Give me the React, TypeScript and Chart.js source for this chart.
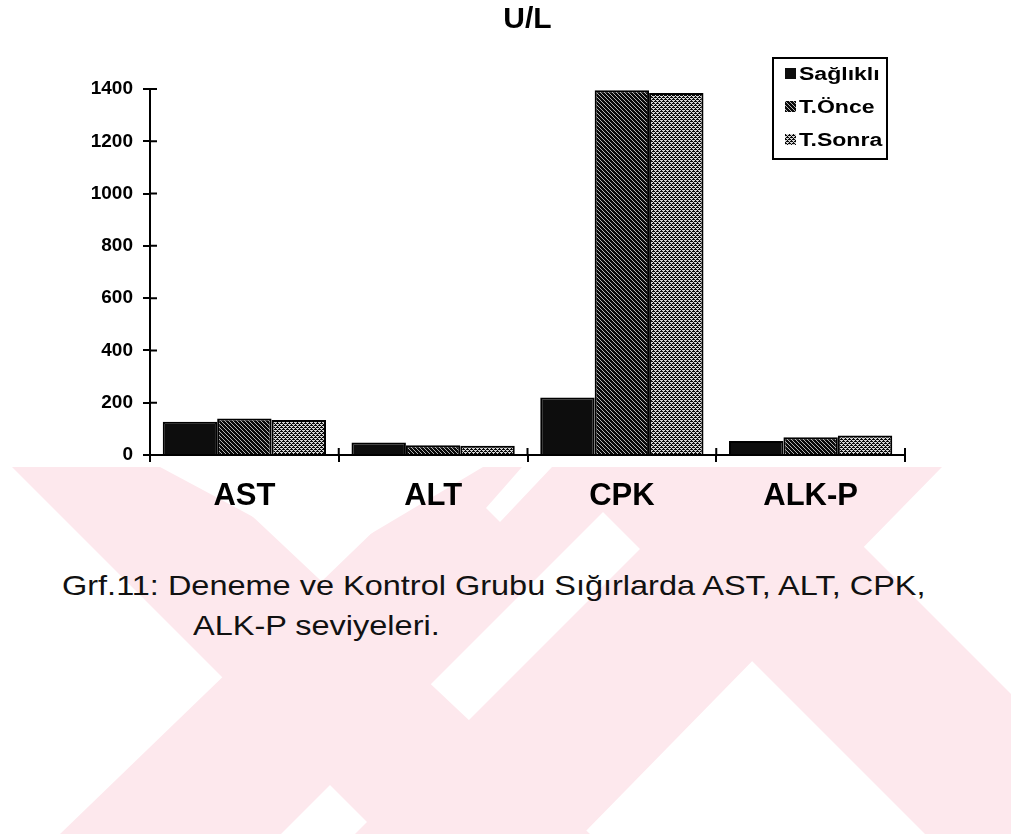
import React, { useEffect, useRef } from "react";
import { Chart, registerables } from "chart.js";

Chart.register(...registerables);

// Enzyme activity levels (U/L) per group
const categories = ["AST", "ALT", "CPK", "ALK-P"];
const seriesNames = ["Sağlıklı", "T.Önce", "T.Sonra"];
const saglikli = [127, 48, 220, 54];
const tOnce = [140, 37, 1395, 68];
const tSonra = [134, 35, 1385, 75];
const yTicks = [0, 200, 400, 600, 800, 1000, 1200, 1400];

const chartTitle = "U/L";
const captionLine1 = "Grf.11: Deneme ve Kontrol Grubu Sığırlarda AST, ALT, CPK,";
const captionLine2 = "ALK-P seviyeleri.";

const FONT = "'Liberation Sans', Arial, Helvetica, sans-serif";

// Monochrome fill textures for the three groups
function makeFill(kind: "solid" | "hatch" | "dots"): CanvasPattern | string {
  if (kind === "solid") return "#0d0d0d";
  const c = document.createElement("canvas");
  c.width = 4;
  c.height = 4;
  const g = c.getContext("2d")!;
  g.fillStyle = "#0a0a0a";
  g.fillRect(0, 0, 4, 4);
  if (kind === "hatch") {
    // fine diagonal hatching
    g.fillStyle = "#b4b4b4";
    for (let i = 0; i < 4; i++) g.fillRect(i, i, 1, 1);
  } else {
    // light speckled rows
    g.fillStyle = "#d4d4d4";
    const lit = [
      [0, 0], [1, 0], [2, 0],
      [1, 1],
      [0, 2], [2, 2], [3, 2],
      [3, 3],
    ];
    lit.forEach(([x, y]) => g.fillRect(x, y, 1, 1));
  }
  const p = document.createElement("canvas").getContext("2d")!.createPattern(c, "repeat");
  return p || "#555";
}

const decorPlugin = {
  id: "decor",
  afterDraw(chart: any) {
    const { ctx, chartArea, scales } = chart;
    const xs = scales.x;
    const ys = scales.y;
    ctx.save();
    ctx.strokeStyle = "#000";
    ctx.lineWidth = 2;
    ctx.beginPath();
    // tick marks continue to the inside of both axes
    ys.ticks.forEach((t: any) => {
      const py = ys.getPixelForValue(t.value);
      ctx.moveTo(chartArea.left, py);
      ctx.lineTo(chartArea.left + 7, py);
    });
    for (let i = 0; i <= categories.length; i++) {
      const px = xs.getPixelForValue(i - 0.5);
      ctx.moveTo(px, chartArea.bottom);
      ctx.lineTo(px, chartArea.bottom - 7);
    }
    ctx.stroke();

    // title
    ctx.fillStyle = "#000";
    ctx.font = `bold 30px ${FONT}`;
    ctx.textAlign = "center";
    ctx.textBaseline = "alphabetic";
    ctx.fillText(chartTitle, (chartArea.left + chartArea.right) / 2, 28);

    // boxed legend in the upper right corner
    const bx = 773;
    const by = 58;
    const bw = 114;
    const bh = 101;
    ctx.lineWidth = 2;
    ctx.strokeRect(bx, by, bw, bh);
    const rowY = [74, 107, 140];
    chart.data.datasets.forEach((ds: any, i: number) => {
      const cy = rowY[i];
      ctx.fillStyle = ds.backgroundColor;
      ctx.fillRect(bx + 12, cy - 6, 11, 11);
      ctx.save();
      ctx.translate(bx + 26, cy + 6);
      ctx.scale(1.28, 1);
      ctx.fillStyle = "#000";
      ctx.font = `bold 18px ${FONT}`;
      ctx.textAlign = "left";
      ctx.fillText(ds.label, 0, 0);
      ctx.restore();
    });
    ctx.restore();
  },
};

export default function App() {
  const canvasRef = useRef<HTMLCanvasElement | null>(null);

  useEffect(() => {
    const canvas = canvasRef.current;
    if (!canvas) return;
    const fills = [makeFill("solid"), makeFill("hatch"), makeFill("dots")];
    const values = [saglikli, tOnce, tSonra];
    const chart = new Chart(canvas, {
      type: "bar",
      data: {
        labels: categories,
        datasets: seriesNames.map((name, i) => ({
          label: name,
          data: values[i],
          backgroundColor: fills[i] as any,
          borderColor: "#000",
          borderWidth: 2,
          categoryPercentage: 0.865,
          barPercentage: 1,
        })),
      },
      options: {
        animation: false,
        responsive: false,
        maintainAspectRatio: false,
        layout: { padding: { left: 0, right: 106, top: 89, bottom: 0 } },
        plugins: {
          legend: { display: false },
          title: { display: false },
          tooltip: { enabled: false },
        },
        scales: {
          x: {
            grid: {
              display: true,
              drawOnChartArea: false,
              drawTicks: true,
              tickLength: 7,
              color: "#000",
              lineWidth: 2,
              offset: true,
            },
            border: { display: true, color: "#000", width: 2 },
            ticks: {
              color: "#000",
              padding: 16,
              font: { family: FONT, size: 31, weight: "bold" },
            },
            afterFit: (s: any) => {
              s.height = 85;
            },
          },
          y: {
            min: 0,
            max: 1400,
            afterBuildTicks: (s: any) => {
              s.ticks = yTicks.map((v) => ({ value: v }));
            },
            grid: {
              drawOnChartArea: false,
              drawTicks: true,
              tickLength: 7,
              color: "#000",
              lineWidth: 2,
            },
            border: { display: true, color: "#000", width: 2 },
            ticks: {
              color: "#000",
              padding: 10,
              font: { family: FONT, size: 19, weight: "bold" },
              callback: (v: any) => String(v),
            },
            afterFit: (s: any) => {
              s.width = 150;
            },
          },
        },
      },
      plugins: [decorPlugin],
    });
    return () => chart.destroy();
  }, []);

  const captionStyle: React.CSSProperties = {
    position: "absolute",
    fontFamily: FONT,
    fontSize: 28,
    lineHeight: "28px",
    color: "#111",
    whiteSpace: "nowrap",
    transform: "scaleX(1.16)",
    transformOrigin: "left top",
  };

  return (
    <div
      style={{
        position: "absolute",
        left: 0,
        top: 0,
        width: 1011,
        height: 834,
        overflow: "hidden",
        background: "#fff",
      }}
    >
      {/* pale background emblem below the chart */}
      <svg width={1011} height={834} style={{ position: "absolute", left: 0, top: 0 }}>
        <defs>
          <clipPath id="wm-clip">
            <rect x={0} y={467} width={1011} height={367} />
          </clipPath>
        </defs>
        <g clipPath="url(#wm-clip)">
          <g fill="#fde8ed">
            <polygon points="12,467 200,467 590,834 379,834" />
            <polygon points="440,467 648,467 281,834 60,834" />
            <polygon points="558,467 784,467 1151,834 925,834" />
            <polygon points="722,467 942,467 583,834 355,834" />
          </g>
          <g fill="#fff">
            <polygon points="160,467 483,467 330,558" />
            <polygon points="522,467 552,467 500,522 486,508" />
          </g>
        </g>
      </svg>
      <canvas
        ref={canvasRef}
        width={1011}
        height={540}
        style={{ position: "absolute", left: 0, top: 0, width: 1011, height: 540 }}
      />
      <div style={{ ...captionStyle, left: 62, top: 572 }}>{captionLine1}</div>
      <div style={{ ...captionStyle, left: 193, top: 612 }}>{captionLine2}</div>
    </div>
  );
}
